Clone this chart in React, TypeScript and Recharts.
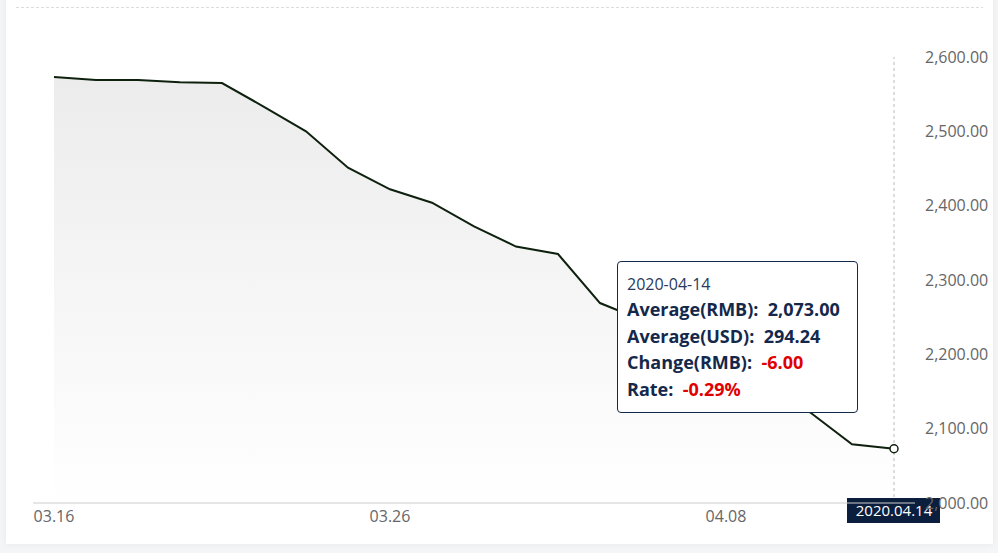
import React from 'react';
import { AreaChart, Area, XAxis, YAxis, Tooltip, ReferenceLine, ReferenceDot } from 'recharts';

const dates = [
  '03.16', '03.17', '03.18', '03.19', '03.20', '03.23', '03.24', '03.25', '03.26', '03.27',
  '03.30', '03.31', '04.01', '04.02', '04.03', '04.07', '04.08', '04.09', '04.10', '04.13', '04.14',
];
const rmbAvg = [
  2573, 2569, 2569, 2566, 2565, 2533, 2500, 2451, 2422, 2404,
  2372, 2345, 2335, 2269, 2246, 2222, 2190, 2155, 2122, 2079, 2073,
];
const xTicks = ['03.16', '03.26', '04.08'];
const yTicks = [2000, 2100, 2200, 2300, 2400, 2500, 2600];
const activeIndex = 20;
const activeFullDate = '2020-04-14';
const activeUsd = 294.24;

const data = dates.map((d, i) => ({ date: d, rmb: rmbAvg[i] }));

const navy = '#14284b';
const red = '#e00000';
const font = '"Open Sans", "Noto Sans", sans-serif';

const fmt = (v: number) =>
  v.toLocaleString('en-US', { minimumFractionDigits: 2, maximumFractionDigits: 2 });

const TipBox = ({ active, payload }: any) => {
  if (!active || !payload || !payload.length) return null;
  const idx = dates.indexOf(payload[0].payload.date);
  const cur = rmbAvg[idx];
  const prev = rmbAvg[idx - 1];
  const change = cur - prev;
  const rate = (change / prev) * 100;
  const row = { fontSize: 18, fontWeight: 700, lineHeight: '26.5px', color: navy, whiteSpace: 'nowrap' as const };
  return (
    <div
      style={{
        width: 239,
        height: 150,
        boxSizing: 'content-box',
        background: '#fff',
        border: `1px solid ${navy}`,
        borderRadius: 4,
        fontFamily: font,
        position: 'relative',
      }}
    >
      <div style={{ position: 'absolute', left: 9, top: 11 }}>
        <div style={{ fontSize: 16, color: '#2a3a5c', lineHeight: '22px', marginBottom: 1 }}>{activeFullDate}</div>
        <div style={row}>Average(RMB):&nbsp;&nbsp;{fmt(cur)}</div>
        <div style={row}>Average(USD):&nbsp;&nbsp;{fmt(activeUsd)}</div>
        <div style={row}>
          Change(RMB):&nbsp;&nbsp;<span style={{ color: red }}>{change.toFixed(2)}</span>
        </div>
        <div style={row}>
          Rate:&nbsp;&nbsp;<span style={{ color: red }}>{rate.toFixed(2)}%</span>
        </div>
      </div>
    </div>
  );
};

const DateFlag = (props: any) => {
  const vb = props.viewBox || {};
  const x = vb.x ?? 0;
  const bottom = (vb.y ?? 0) + (vb.height ?? 0);
  return (
    <g>
      <rect x={x - 47} y={bottom - 5} width={93} height={25} fill="#0b1e3e" />
      <text x={x} y={bottom + 13} textAnchor="middle" fill="#fff" fontSize={15} fontFamily={font}>
        2020.04.14
      </text>
    </g>
  );
};

export default function App() {
  return (
    <div style={{ position: 'absolute', left: 0, top: 0, width: 998, height: 553, background: '#f4f5f7', overflow: 'hidden' }}>
      <div
        style={{
          position: 'absolute',
          left: 6,
          top: -4,
          width: 987,
          height: 548,
          background: '#fff',
          boxShadow: '0 0 6px rgba(0,0,0,0.06)',
        }}
      />
      <div
        style={{
          position: 'absolute',
          left: 16,
          top: 7,
          width: 967,
          height: 1,
          backgroundImage: 'repeating-linear-gradient(to right, #dcdcdc 0 3px, transparent 3px 5px)',
        }}
      />
      <div style={{ position: 'absolute', left: 0, top: 0, width: 992, height: 553, overflow: 'hidden' }}>
        <AreaChart
          width={998}
          height={553}
          data={data}
          margin={{ top: 57, right: 23, bottom: 20, left: 33 }}
          style={{ fontFamily: font }}
        >
          <defs>
            <linearGradient id="areaFill" x1="0" y1="0" x2="0" y2="1">
              <stop offset="0%" stopColor="#ebeceb" stopOpacity={1} />
              <stop offset="100%" stopColor="#ffffff" stopOpacity={1} />
            </linearGradient>
          </defs>
          <XAxis
            dataKey="date"
            ticks={xTicks}
            interval={0}
            padding={{ left: 21, right: 21 }}
            axisLine={{ stroke: '#cccccc' }}
            tickLine={false}
            tick={{ fill: '#666', fontSize: 16 }}
            height={30}
          />
          <YAxis
            orientation="right"
            domain={[2000, 2600]}
            ticks={yTicks}
            tickFormatter={fmt}
            axisLine={false}
            tickLine={false}
            tick={{ fill: '#666', fontSize: 16, dx: 2 }}
            width={60}
          />
          <Area
            type="linear"
            dataKey="rmb"
            stroke="#0e200e"
            strokeWidth={2}
            fill="url(#areaFill)"
            fillOpacity={1}
            dot={false}
            activeDot={false}
            isAnimationActive={false}
          />
          <ReferenceLine
            x={dates[activeIndex]}
            stroke="#bbbbbb"
            strokeDasharray="3 3"
            ifOverflow="visible"
            label={<DateFlag />}
          />
          <ReferenceDot
            x={dates[activeIndex]}
            y={rmbAvg[activeIndex]}
            r={4}
            fill="#fff"
            stroke="#0e200e"
            strokeWidth={1.5}
            ifOverflow="visible"
          />
          <Tooltip
            content={<TipBox />}
            active
            defaultIndex={activeIndex}
            cursor={false}
            position={{ x: 617, y: 261 }}
            isAnimationActive={false}
            wrapperStyle={{ outline: 'none' }}
          />
        </AreaChart>
      </div>
    </div>
  );
}
